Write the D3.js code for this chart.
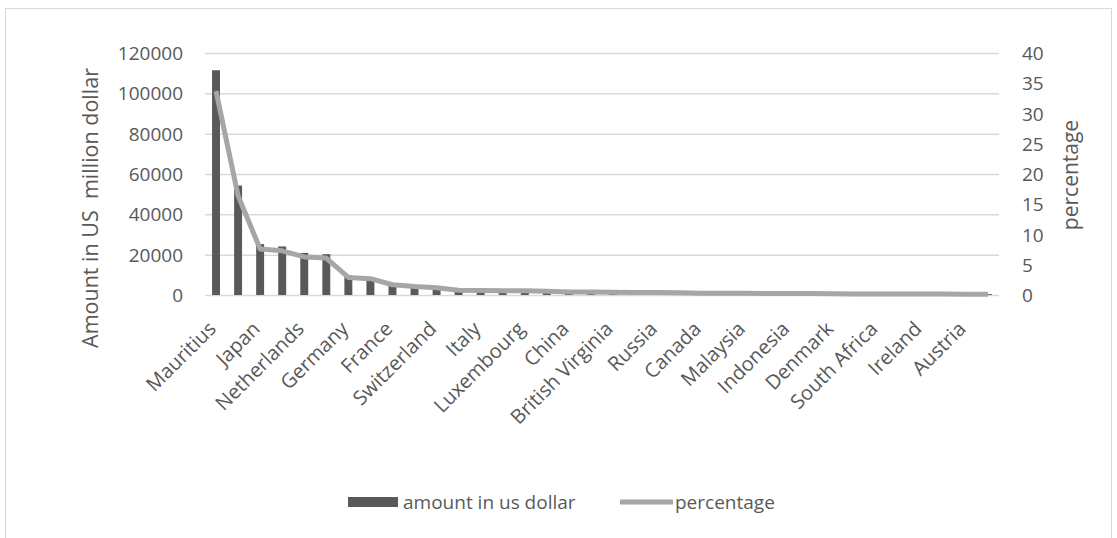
<!DOCTYPE html>
<html>
<head>
<meta charset="utf-8">
<script src="https://cdn.jsdelivr.net/npm/d3@7/dist/d3.min.js"></script>
<style>
  body { margin: 0; background: #fff; }
  text { font-family: "Open Sans", "Noto Sans", sans-serif; fill: #595959; }
</style>
</head>
<body>
<svg id="chart" width="1117" height="538"></svg>
<script>
// countries in the order of the chart (only every other name is shown on the axis)
var countries = ["Mauritius", "Singapore", "Japan", "UK", "Netherlands", "USA", "Germany", "Cyprus",
  "France", "UAE", "Switzerland", "Spain", "Italy", "Hong Kong", "Luxembourg", "South Korea",
  "China", "Cayman Islands", "British Virginia", "Sweden", "Russia", "Belgium", "Canada", "Thailand",
  "Malaysia", "Australia", "Indonesia", "Poland", "Denmark", "Finland", "South Africa", "Norway",
  "Ireland", "Bermuda", "Austria", "Channel Islands"];

// amount in US million dollar
var amounts = [111444, 54263, 25226, 24066, 20863, 20240, 9719, 8933,
  5630, 4661, 4022, 2650, 2480, 2380, 2320, 2000,
  1650, 1590, 1490, 1420, 1320, 1190, 990, 930,
  890, 860, 830, 790, 660, 600, 560, 530,
  500, 490, 460, 430];

// percentage of total
var percentages = [33.7, 16.4, 7.6, 7.3, 6.3, 6.1, 2.9, 2.7,
  1.7, 1.4, 1.2, 0.8, 0.75, 0.72, 0.7, 0.6,
  0.5, 0.48, 0.45, 0.43, 0.4, 0.36, 0.3, 0.28,
  0.27, 0.26, 0.25, 0.24, 0.2, 0.18, 0.17, 0.16,
  0.15, 0.15, 0.14, 0.13];

var leftTicks = [0, 20000, 40000, 60000, 80000, 100000, 120000];
var rightTicks = [0, 5, 10, 15, 20, 25, 30, 35, 40];

var svg = d3.select("#chart"),
    plotLeft = 205, plotRight = 999, plotTop = 53, plotBottom = 295;

// chart frame
svg.append("rect")
    .attr("x", 5.5).attr("y", 8.5)
    .attr("width", 1106).attr("height", 540)
    .attr("fill", "none").attr("stroke", "#d9d9d9");

var x = d3.scaleBand()
    .domain(countries)
    .range([plotLeft, plotRight])
    .paddingInner(0.64)
    .paddingOuter(0.32);

var yL = d3.scaleLinear().domain([0, 120000]).range([plotBottom, plotTop]);
var yR = d3.scaleLinear().domain([0, 40]).range([plotBottom, plotTop]);

// gridlines + left axis
var gL = svg.append("g")
    .attr("transform", "translate(" + plotLeft + ",0)")
    .call(d3.axisLeft(yL).tickValues(leftTicks).tickFormat(d3.format("d"))
      .tickSize(-(plotRight - plotLeft)).tickPadding(22));
gL.select(".domain").remove();
gL.selectAll("line").attr("stroke", "#d9d9d9").attr("stroke-width", 1.5);
gL.selectAll("text").style("font-size", "19px").attr("dy", "0.35em");

// right axis
var gR = svg.append("g")
    .attr("transform", "translate(" + plotRight + ",0)")
    .call(d3.axisRight(yR).tickValues(rightTicks).tickSize(0).tickPadding(23));
gR.select(".domain").remove();
gR.selectAll("text").style("font-size", "19px").attr("dy", "0.35em");

// bars
svg.append("g").selectAll("rect")
    .data(countries)
    .enter().append("rect")
      .attr("x", function(d) { return x(d); })
      .attr("width", x.bandwidth())
      .attr("y", function(d, i) { return yL(amounts[i]); })
      .attr("height", function(d, i) { return plotBottom - yL(amounts[i]); })
      .attr("fill", "#595959");

// percentage line
var line = d3.line()
    .x(function(d, i) { return x(countries[i]) + x.bandwidth() / 2; })
    .y(function(d) { return yR(d); });

svg.append("path")
    .datum(percentages)
    .attr("d", line)
    .attr("fill", "none")
    .attr("stroke", "#a6a6a6")
    .attr("stroke-width", 5)
    .attr("stroke-linejoin", "round");

// x axis labels, every other category
var gX = svg.append("g")
    .attr("transform", "translate(0," + plotBottom + ")")
    .call(d3.axisBottom(x).tickValues(countries.filter(function(d, i) { return i % 2 === 0; })).tickSize(0));
gX.select(".domain").remove();
gX.selectAll("text")
    .style("font-size", "20px")
    .attr("text-anchor", "end")
    .attr("dy", "0")
    .attr("transform", "translate(-1,33) rotate(-45)");

// axis titles
svg.append("text")
    .attr("transform", "translate(98,208) rotate(-90)")
    .attr("text-anchor", "middle")
    .style("font-size", "21.5px")
    .style("white-space", "pre")
    .text("Amount in US  million dollar");

svg.append("text")
    .attr("transform", "translate(1078,175) rotate(-90)")
    .attr("text-anchor", "middle")
    .style("font-size", "21px")
    .text("percentage");

// legend
var legend = svg.append("g");
legend.append("rect")
    .attr("x", 348).attr("y", 497).attr("width", 50).attr("height", 10)
    .attr("fill", "#595959");
legend.append("text")
    .attr("x", 403).attr("y", 509)
    .style("font-size", "19px")
    .text("amount in us dollar");
legend.append("line")
    .attr("x1", 620).attr("x2", 673).attr("y1", 502).attr("y2", 502)
    .attr("stroke", "#a6a6a6").attr("stroke-width", 5);
legend.append("text")
    .attr("x", 675).attr("y", 509)
    .style("font-size", "19px")
    .text("percentage");
</script>
</body>
</html>
